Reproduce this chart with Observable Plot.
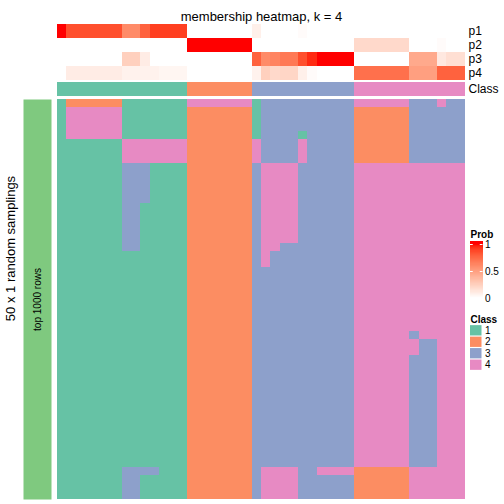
<!DOCTYPE html>
<html>
<head>
<meta charset="utf-8">
<script src="https://cdn.jsdelivr.net/npm/d3@7"></script>
<script src="https://cdn.jsdelivr.net/npm/@observablehq/plot@0.6"></script>
<style>
  body { margin: 0; background: #fff; }
  #root { position: relative; width: 504px; height: 504px; background: #fff; overflow: hidden; }
</style>
</head>
<body>
<div id="root"></div>
<script>
// ---------------- data ----------------
const chartTitle = "membership heatmap, k = 4";
const rowTitle = "50 x 1 random samplings";
const sliceTitle = "top 1000 rows";
const probNames = ["p1", "p2", "p3", "p4"];
const classLevels = ["1", "2", "3", "4"];
const classColors = ["#66C2A5", "#FC8D62", "#8DA0CB", "#E78AC3"];
const sliceColor = "#7FC97F";

// membership probabilities per sample (44 samples)
const p1 = [1, .85, .85, .85, .85, .85, .85, .6, .6, .78, .9, .9, .9, .9,
            0, 0, 0, 0, 0, 0, 0,
            .08, 0, 0, 0, 0, .02, 0, 0, 0, 0, 0,
            0, 0, 0, 0, 0, 0, 0, 0, 0, 0, 0, 0];
const p2 = [0, 0, 0, 0, 0, 0, 0, 0, 0, 0, 0, 0, 0, 0,
            1, 1, 1, 1, 1, 1, 1,
            0, 0, 0, 0, 0, 0, 0, 0, 0, 0, 0,
            .2, .2, .2, .2, .2, .2, 0, 0, 0, .02, 0, 0];
const p3 = [0, 0, 0, 0, 0, 0, 0, .25, .25, .1, 0, 0, 0, 0,
            0, 0, 0, 0, 0, 0, 0,
            .78, .6, .63, .68, .68, .85, .95, 1, 1, 1, 1,
            0, 0, 0, 0, 0, 0, .45, .45, .45, .12, .17, .17];
const p4 = [0, .1, .1, .1, .1, .1, .1, .07, .07, .07, .07, .05, .05, .05,
            0, 0, 0, 0, 0, 0, 0,
            .07, .25, .2, .22, .22, .08, .02, 0, 0, 0, 0,
            .72, .72, .72, .72, .72, .72, .5, .5, .5, .78, .78, .78];

// consensus class per sample
const sampleClass = "11111111111111222222233333333333444444444444";

// class of each sample in each of the 50 random samplings
const membership = [
  "12222221111111444444413333333333444444333433",
  "14444441111111222222213333333333222222333333",
  "14444441111111222222213333333333222222333333",
  "14444441111111222222213333333333222222333333",
  "14444441111111222222213333133333222222333333",
  "11111114444444222222243333433333222222333333",
  "11111114444444222222243333433333222222333333",
  "11111114444444222222243333433333222222333333",
  "11111113331111222222234444333333444444444444",
  "11111113331111222222234444333333444444444444",
  "11111113331111222222234444333333444444444444",
  "11111113331111222222234444333333444444444444",
  "11111113331111222222234444333333444444444444",
  "11111113311111222222234444333333444444444444",
  "11111113311111222222234444333333444444444444",
  "11111113311111222222234444333333444444444444",
  "11111113311111222222234444333333444444444444",
  "11111113311111222222234444333333444444444444",
  "11111113311111222222234433333333444444444444",
  "11111111111111222222234333333333444444444444",
  "11111111111111222222234333333333444444444444",
  "11111111111111222222233333333333444444444444",
  "11111111111111222222233333333333444444444444",
  "11111111111111222222233333333333444444444444",
  "11111111111111222222233333333333444444444444",
  "11111111111111222222233333333333444444444444",
  "11111111111111222222233333333333444444444444",
  "11111111111111222222233333333333444444444444",
  "11111111111111222222233333333333444444444444",
  "11111111111111222222233333333333444444344444",
  "11111111111111222222233333333333444444433444",
  "11111111111111222222233333333333444444433444",
  "11111111111111222222233333333333444444333444",
  "11111111111111222222233333333333444444333444",
  "11111111111111222222233333333333444444333444",
  "11111111111111222222233333333333444444333444",
  "11111111111111222222233333333333444444333444",
  "11111111111111222222233333333333444444333444",
  "11111111111111222222233333333333444444333444",
  "11111111111111222222233333333333444444333444",
  "11111111111111222222233333333333444444333444",
  "11111111111111222222233333333333444444333444",
  "11111111111111222222233333333333444444333444",
  "11111111111111222222233333333333444444333444",
  "11111111111111222222233333333333444444333444",
  "11111111111111222222233333333333444444333444",
  "11111113333111222222234444334444222222444444",
  "11111113311111222222234444333333222222444444",
  "11111113311111222222234444333333222222444444",
  "11111113311111222222234444333333222222444444"
];

const probTicks = [0, 0.5, 1];

// ---------------- drawing ----------------
const FONT = "'Liberation Sans', Arial, Helvetica, sans-serif";
const W = 504, H = 504;
const root = document.getElementById("root");
function add(svg) {
  svg.style.position = "absolute";
  svg.style.left = "0px";
  svg.style.top = "0px";
  root.appendChild(svg);
}
function st(size) {
  return {background: "transparent", fontFamily: FONT, fontSize: size + "px", color: "black", overflow: "visible"};
}

const nSamples = sampleClass.length;
const sampleIdx = Array.from({length: nSamples}, (_, i) => i);
const rowIdx = membership.map((_, i) => i);
const probSeries = [p1, p2, p3, p4];
const probCells = probNames.flatMap((name, r) => probSeries[r].map((v, j) => ({row: name, col: j, v})));
const classCells = [...sampleClass].map((c, j) => ({row: "Class", col: j, cls: c}));
const memCells = membership.flatMap((s, r) => [...s].map((c, j) => ({row: r, col: j, cls: c})));

const L = 57, R = 39; // heatmap body spans x 57..465
const probColor = {type: "linear", domain: [0, 1], range: ["white", "red"], interpolate: "lab"};
const classColor = {type: "ordinal", domain: classLevels, range: classColors};
const xBand = {type: "band", domain: sampleIdx, padding: 0, round: false, axis: null};

// probability annotation rows + title
add(Plot.plot({
  width: W, height: H, style: st(12),
  marginTop: 24, marginBottom: H - 80, marginLeft: L, marginRight: R,
  x: xBand,
  y: {type: "band", domain: probNames, padding: 0, round: false, axis: "right", tickSize: 0, tickPadding: 3, label: null},
  color: probColor,
  marks: [
    Plot.cell(probCells, {x: "col", y: "row", fill: "v", shapeRendering: "crispEdges"}),
    Plot.text([chartTitle], {text: d => d, frameAnchor: "top", dy: -13, fontSize: 13})
  ]
}));

// class annotation row
add(Plot.plot({
  width: W, height: H, style: st(12),
  marginTop: 82, marginBottom: H - 96, marginLeft: L, marginRight: R,
  x: xBand,
  y: {type: "band", domain: ["Class"], padding: 0, round: false, axis: "right", tickSize: 0, tickPadding: 3, label: null},
  color: classColor,
  marks: [
    Plot.cell(classCells, {x: "col", y: "row", fill: "cls", shapeRendering: "crispEdges"})
  ]
}));

// main membership heatmap
add(Plot.plot({
  width: W, height: H, style: st(12),
  marginTop: 99, marginBottom: 5, marginLeft: L, marginRight: R,
  x: xBand,
  y: {type: "band", domain: rowIdx, padding: 0, round: false, axis: null},
  color: classColor,
  marks: [
    Plot.cell(memCells, {x: "col", y: "row", fill: "cls", shapeRendering: "crispEdges"})
  ]
}));

// row slice bar and row titles
add(Plot.plot({
  width: W, height: H, style: st(10),
  marginTop: 99, marginBottom: 5, marginLeft: 23, marginRight: W - 51,
  marks: [
    Plot.frame({fill: sliceColor, stroke: "none"}),
    Plot.text([sliceTitle], {text: d => d, frameAnchor: "middle", rotate: -90, fontSize: 10}),
    Plot.text([rowTitle], {text: d => d, frameAnchor: "middle", rotate: -90, dx: -27, dy: -51, fontSize: 13})
  ]
}));

// Prob legend
add(Plot.plot({
  width: W, height: H, style: st(10),
  marginTop: 244, marginBottom: H - 298, marginLeft: 470, marginRight: W - 482.5,
  x: {domain: [0, 1], axis: null},
  y: {domain: [0, 1], axis: "right", ticks: probTicks, tickSize: 0, tickPadding: 2, tickFormat: d => String(d), label: null},
  color: probColor,
  marks: [
    Plot.rect(d3.range(-0.03, 1.06, 0.01), {x1: 0, x2: 1, y1: d => d, y2: d => d + 0.012, fill: d => Math.max(0, Math.min(1, d + 0.005)), shapeRendering: "crispEdges"}),
    Plot.ruleY([0.5, 1], {x1: 0, x2: 0.22, stroke: "white", strokeWidth: 1}),
    Plot.ruleY([0.5, 1], {x1: 0.78, x2: 1, stroke: "white", strokeWidth: 1}),
    Plot.text(["Prob"], {text: d => d, frameAnchor: "top-left", dy: -14, fontWeight: "bold", fontSize: 10})
  ]
}));

// Class legend
add(Plot.plot({
  width: W, height: H, style: st(10),
  marginTop: 324, marginBottom: H - 371, marginLeft: 470, marginRight: W - 481.5,
  y: {type: "band", domain: classLevels, padding: 0.1, round: false, axis: "right", tickSize: 0, tickPadding: 3, label: null},
  color: classColor,
  marks: [
    Plot.cell(classLevels, {y: d => d, fill: d => d}),
    Plot.text(["Class"], {text: d => d, frameAnchor: "top-left", dy: -9, fontWeight: "bold", fontSize: 10})
  ]
}));
</script>
</body>
</html>
